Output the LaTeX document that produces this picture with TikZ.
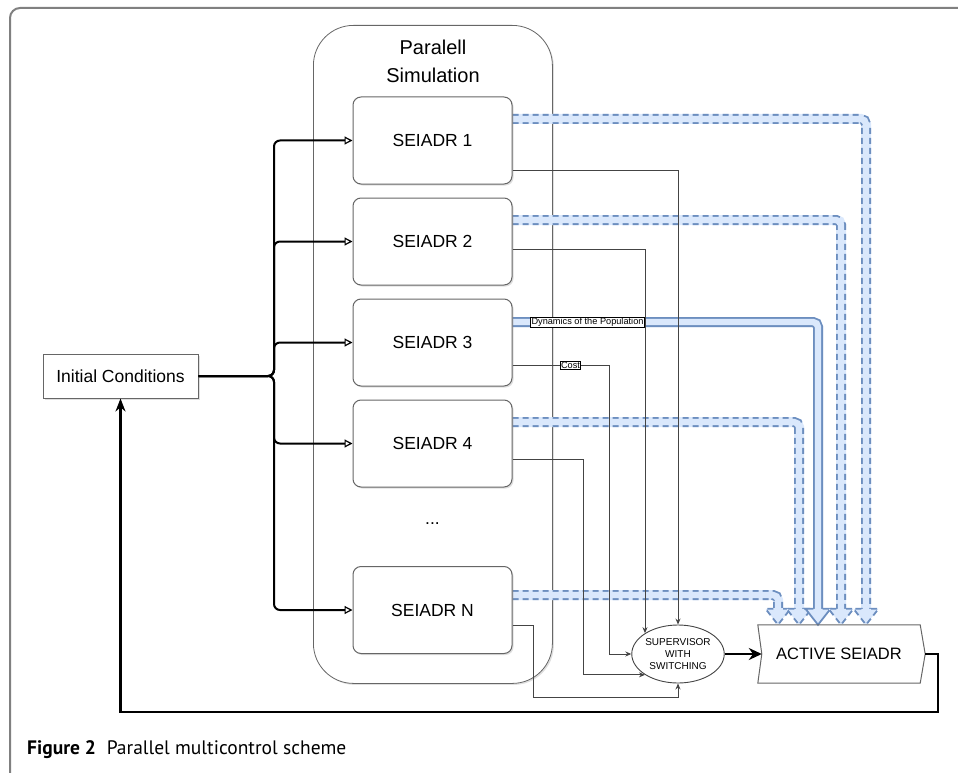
\documentclass[tikz,border=0pt]{standalone}
\usepackage{fontspec}
\setmainfont{Liberation Sans}
\newfontfamily\capfont{PT Sans}
\usetikzlibrary{arrows.meta,shapes.geometric,shadows,calc}
\definecolor{bfillc}{HTML}{DAE8FC}
\definecolor{bedgec}{HTML}{6C8EBF}
\definecolor{framec}{HTML}{808080}
\definecolor{boxc}{HTML}{666666}
\definecolor{thinc}{HTML}{444444}
\pgfdeclarelayer{bg}
\pgfdeclarelayer{mid}
\pgfsetlayers{bg,mid,main}
\tikzset{
  shade/.style={drop shadow={shadow xshift=1.5pt, shadow yshift=-1.5pt, opacity=0.25}},
  simbox/.style={draw=boxc, line width=1pt, rounded corners=8pt, minimum width=159pt,
    minimum height=87pt, fill=white, shade, font=\fontsize{17.5}{21}\selectfont},
  icbox/.style={draw=boxc, line width=1pt, minimum width=155pt, minimum height=44pt,
    fill=white, shade, font=\fontsize{17.5}{21}\selectfont},
  bus/.style={black, line width=2pt, rounded corners=6pt,
    -{Triangle[fill=white, length=8pt, width=8pt, line width=1.2pt]}},
  thin/.style={thinc, line width=0.9pt, -{Stealth[length=6pt, width=5pt]}},
  thick/.style={black, line width=2.5pt},
  bfill/.style={bfillc, line width=10pt, rounded corners=5pt},
  bedge/.style={bedgec, line width=10pt, rounded corners=5pt},
  bcore/.style={bfillc, line width=6.4pt, rounded corners=5pt},
  bdash/.style={dash pattern=on 6pt off 4pt},
  bhead/.style={fill=bfillc, draw=bedgec, line width=1.8pt, line join=miter},
  lbl/.style={draw=black, fill=white, line width=0.6pt, inner sep=0.8pt,
    font=\fontsize{9.2}{11}\selectfont},
}
\newcommand{\flexshaft}[2]{%
  \draw[bfill] #2;
  \draw[bedge,#1] #2;
  \draw[bcore] #2;
}
\newcommand{\flexhead}[2]{%
  \filldraw[bhead,#1] ($(#2)+(-4.6,-16)$) -- ($(#2)+(-12.5,-16)$) -- (#2)
    -- ($(#2)+(12.5,-16)$) -- ($(#2)+(4.6,-16)$);
}
\begin{document}
\begin{tikzpicture}[x=1pt,y=-1pt]
\useasboundingbox (0,0) rectangle (958,773);
\clip (0,0) rectangle (958,773);

% outer frame
\draw[framec, line width=2pt, rounded corners=10pt] (10,800) -- (10,8) -- (990,8);

% container
\begin{pgfonlayer}{bg}
\node[draw=boxc, line width=0.8pt, rounded corners=40pt, minimum width=239pt,
  minimum height=658pt, anchor=north west, shade, fill=white] (par) at (313,25) {};
\end{pgfonlayer}
\node[anchor=base, font=\fontsize{20}{24}\selectfont] (ttl1) at (433,55) {Paralell};
\node[anchor=base, font=\fontsize{20}{24}\selectfont] (ttl2) at (433,83) {Simulation};

% simulation boxes
\node[simbox] (s1) at (432.5,140.5) {SEIADR 1};
\node[simbox] (s2) at (432.5,241.5) {SEIADR 2};
\node[simbox] (s3) at (432.5,342.5) {SEIADR 3};
\node[simbox] (s4) at (432.5,443.5) {SEIADR 4};
\node[font=\fontsize{17.5}{21}\selectfont] (dots) at (432.5,524) {...};
\node[simbox] (sN) at (432.5,610) {SEIADR N};

% initial conditions
\node[icbox] (ic) at (120.5,376) {Initial Conditions};

% supervisor
\node[ellipse, draw=thinc, line width=0.9pt, fill=white, minimum width=86pt, minimum height=58pt,
  inner sep=0pt, align=center, font=\fontsize{10}{12}\selectfont] (sup) at (678,654)
  {SUPERVISOR\\WITH\\SWITCHING};

% active seiadr
\node[minimum width=162pt, minimum height=58pt, inner sep=0pt,
  font=\fontsize{16.5}{20}\selectfont] (act) at (839,654) {ACTIVE SEIADR};
\coordinate (acttip) at ($(act.east)+(5,0)$);
\draw[boxc, line width=1pt, line join=miter] (act.north west) -- ($(act.west)+(4,0)$)
  -- (act.south west) -- (act.south east) -- (acttip) -- (act.north east) -- cycle;

% blue flex arrows
\coordinate (h1) at (act.north -| 866,0);
\coordinate (h2) at (act.north -| 841,0);
\coordinate (h3) at (act.north -| 818,0);
\coordinate (h4) at (act.north -| 799,0);
\coordinate (h5) at (act.north -| 778,0);
\begin{pgfonlayer}{mid}
\flexshaft{bdash}{(s1.east |- 0,119) -- (866,119) -- ($(h1)+(0,-16)$)}
\flexshaft{bdash}{(s2.east |- 0,220) -- (841,220) -- ($(h2)+(0,-16)$)}
\flexshaft{solid}{(s3.east |- 0,322) -- (818,322) -- ($(h3)+(0,-16)$)}
\flexshaft{bdash}{(s4.east |- 0,422) -- (799,422) -- ($(h4)+(0,-16)$)}
\flexshaft{bdash}{(sN.east |- 0,595) -- (778,595) -- ($(h5)+(0,-16)$)}
\flexhead{bdash}{h5}
\flexhead{bdash}{h4}
\flexhead{solid}{h3}
\flexhead{bdash}{h2}
\flexhead{bdash}{h1}
\end{pgfonlayer}

% bus from initial conditions
\foreach \n in {s1,s2,s3,s4,sN}
  \draw[bus] (ic.east) -- (274,0 |- ic.east) |- (\n.west);

% thin connectors to supervisor
\draw[thin] (s1.east |- 0,170) -| (sup.north);
\draw[thin] (s2.east |- 0,249) -| (sup.north west);
\draw[thin] (s3.east |- 0,365) -| ($(sup.west)+(-22,0)$) -- (sup.west);
\draw[thin] (s4.east |- 0,459) -| (583,0 |- sup.south west) -- (sup.south west);
\draw[thin] (sN.east |- 0,625) -- (533,625) -- (533,697) -| (sup.south);

% labels
\node[lbl] (cost) at (570.5,365) {Cost};
\node[lbl] (dyn) at (587.5,322.5) {Dynamics of the Population};

% supervisor -> active
\draw[thick, -{Stealth[length=13pt, width=12pt]}] (sup.east) -- ($(act.west)+(4,0)$);

% feedback
\draw[thick, -{Stealth[length=13pt, width=10pt]}] (acttip) -- (938,0 |- acttip) -- (938,712) -| (ic.south);

% caption
\node[anchor=base west, inner sep=0pt, font=\capfont\fontsize{19.5}{23}\selectfont] (cap) at (27,754)
  {\textbf{Figure 2}\hspace{0.55em}Parallel multicontrol scheme};
\end{tikzpicture}
\end{document}
